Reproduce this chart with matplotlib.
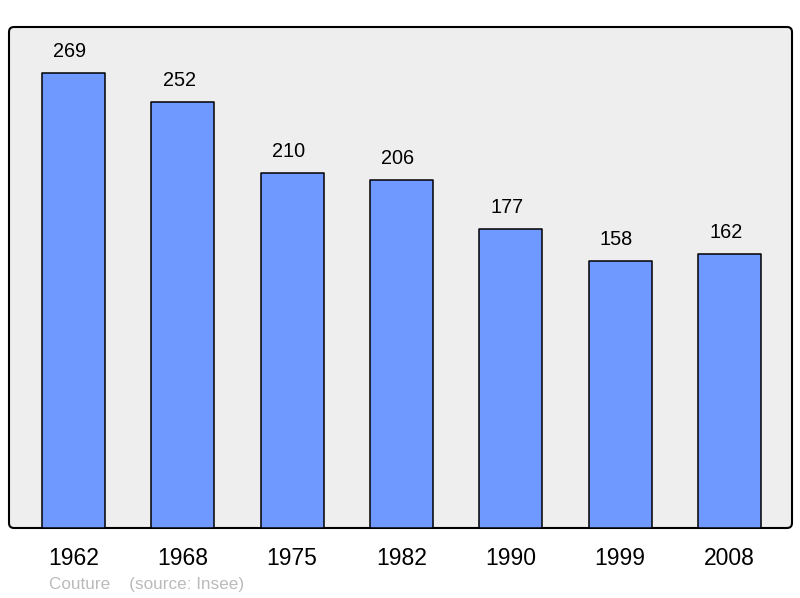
import matplotlib
matplotlib.use("Agg")
import matplotlib.pyplot as plt
from matplotlib.patches import FancyBboxPatch

years = ["1962", "1968", "1975", "1982", "1990", "1999", "2008"]
population = [269, 252, 210, 206, 177, 158, 162]
footer = "Couture    (source: Insee)"

plt.rcParams['font.family'] = ['Liberation Sans', 'DejaVu Sans']

fig = plt.figure(figsize=(8.0, 5.98), dpi=100)
L, B, W, H = 9/800, 70/598, 783/800, 501/598
ax = fig.add_axes([L, B, W, H])
ax.set_zorder(2)
ax.patch.set_visible(False)
for s in ax.spines.values():
    s.set_visible(False)

bg = FancyBboxPatch((L, B), W, H, boxstyle="round,pad=0,rounding_size=0.00625",
                    mutation_aspect=800/598, transform=fig.transFigure,
                    facecolor="#eeeeee", edgecolor="#000000", linewidth=1.5,
                    zorder=-1)
fig.patches.append(bg)

x = list(range(len(years)))
bars = ax.bar(x, population, width=0.577, color="#7099ff", edgecolor="#000000",
              linewidth=1.1, zorder=2)
for b in bars:
    b.set_joinstyle("round")

for xi, v in zip(x, population):
    ax.annotate(str(v), (xi, v), xytext=(-2.6, 8.5), textcoords="offset points",
                ha="center", va="bottom", fontsize=14.3, color="#000000")

ax.set_xlim(-0.590, 6.572)
ax.set_ylim(0, 296.3)
ax.set_xticks(x)
ax.set_xticklabels(years, fontsize=16.5)
ax.tick_params(axis="x", length=0, pad=13.5)
ax.set_yticks([])

fig.text(49/800, 1 - 584.5/598, footer, fontsize=12.3, color="#bbbbbb",
         ha="left", va="center")

fig.savefig("out.png", dpi=100)
